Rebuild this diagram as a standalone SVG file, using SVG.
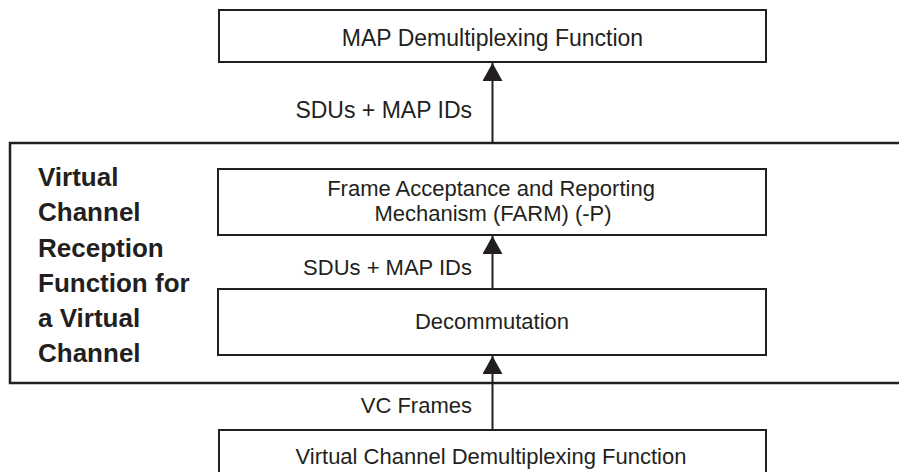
<svg xmlns="http://www.w3.org/2000/svg" width="899" height="472" viewBox="0 0 899 472">
<style>
.box{fill:#fff;stroke:#231f20;stroke-width:2}
.outer{fill:none;stroke:#231f20;stroke-width:2.5}
.t{font-family:"Liberation Sans",Arial,sans-serif;fill:#231f20}
.n{font-size:22px;text-anchor:middle}
.lbl{font-size:22px;text-anchor:end}
.b{font-family:"Liberation Sans",Arial,sans-serif;font-weight:bold;font-size:26px;fill:#231f20}
.c{stroke:#231f20;stroke-width:2;fill:none}
</style>
<defs>
<marker id="ah" viewBox="0 0 18 20" refX="18" refY="10" markerWidth="18" markerHeight="20" markerUnits="userSpaceOnUse" orient="auto">
<path d="M0,0 L18,10 L0,20 Z" fill="#231f20"/>
</marker>
</defs>
<g id="vc-reception">
<rect class="outer" x="10" y="143" width="900" height="240"/>
<text class="b" x="38" y="186">Virtual</text>
<text class="b" x="38" y="221">Channel</text>
<text class="b" x="38" y="257">Reception</text>
<text class="b" x="38" y="292">Function for</text>
<text class="b" x="38" y="327">a Virtual</text>
<text class="b" x="38" y="362">Channel</text>
</g>
<g id="map-demux">
<rect class="box" x="219" y="10" width="547" height="52"/>
<text class="t n" x="492.5" y="46" style="font-size:23px">MAP Demultiplexing Function</text>
</g>
<g id="farm">
<rect class="box" x="218" y="169" width="548" height="66"/>
<text class="t n" x="491" y="196">Frame Acceptance and Reporting</text>
<text class="t n" x="493" y="221">Mechanism (FARM) (-P)</text>
</g>
<g id="decommutation">
<rect class="box" x="218" y="289" width="548" height="66"/>
<text class="t n" x="492" y="329">Decommutation</text>
</g>
<g id="vc-demux">
<rect class="box" x="219" y="430" width="547" height="60"/>
<text class="t n" x="491" y="464">Virtual Channel Demultiplexing Function</text>
</g>
<g id="connectors">
<line class="c" x1="492.5" y1="143" x2="492.5" y2="63" marker-end="url(#ah)"/>
<line class="c" x1="492.5" y1="289" x2="492.5" y2="236" marker-end="url(#ah)"/>
<line class="c" x1="492.5" y1="430" x2="492.5" y2="356" marker-end="url(#ah)"/>
<text class="t lbl" x="472" y="118" style="font-size:23px">SDUs + MAP IDs</text>
<text class="t lbl" x="472" y="275">SDUs + MAP IDs</text>
<text class="t lbl" x="472" y="413">VC Frames</text>
</g>
</svg>
